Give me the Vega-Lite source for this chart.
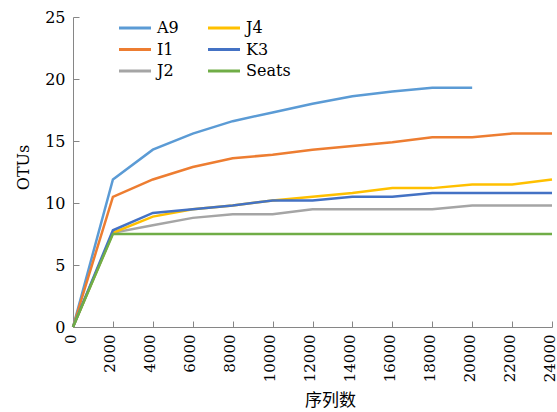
{
  "$schema": "https://vega.github.io/schema/vega-lite/v6.json",
  "width": 479,
  "height": 310,
  "autosize": "none",
  "padding": {"left": 73, "top": 17, "right": 5, "bottom": 85},
  "background": "white",
  "config": {
    "view": {"stroke": null},
    "font": "DejaVu Serif",
    "axis": {"grid": false, "domainColor": "#868686", "tickColor": "#868686", "labelColor": "black", "titleColor": "black", "titleFontWeight": "normal", "labelFont": "DejaVu Serif", "titleFont": "DejaVu Serif"},
    "legend": {"labelColor": "black", "labelFont": "DejaVu Serif"}
  },
  "data": {"values": [
    {"x": 0, "s": "A9", "v": 0}, {"x": 2000, "s": "A9", "v": 11.9}, {"x": 4000, "s": "A9", "v": 14.3}, {"x": 6000, "s": "A9", "v": 15.6}, {"x": 8000, "s": "A9", "v": 16.6}, {"x": 10000, "s": "A9", "v": 17.3}, {"x": 12000, "s": "A9", "v": 18.0}, {"x": 14000, "s": "A9", "v": 18.6}, {"x": 16000, "s": "A9", "v": 19.0}, {"x": 18000, "s": "A9", "v": 19.3}, {"x": 20000, "s": "A9", "v": 19.3},
    {"x": 0, "s": "I1", "v": 0}, {"x": 2000, "s": "I1", "v": 10.5}, {"x": 4000, "s": "I1", "v": 11.9}, {"x": 6000, "s": "I1", "v": 12.9}, {"x": 8000, "s": "I1", "v": 13.6}, {"x": 10000, "s": "I1", "v": 13.9}, {"x": 12000, "s": "I1", "v": 14.3}, {"x": 14000, "s": "I1", "v": 14.6}, {"x": 16000, "s": "I1", "v": 14.9}, {"x": 18000, "s": "I1", "v": 15.3}, {"x": 20000, "s": "I1", "v": 15.3}, {"x": 22000, "s": "I1", "v": 15.6}, {"x": 24000, "s": "I1", "v": 15.6},
    {"x": 0, "s": "J2", "v": 0}, {"x": 2000, "s": "J2", "v": 7.6}, {"x": 4000, "s": "J2", "v": 8.2}, {"x": 6000, "s": "J2", "v": 8.8}, {"x": 8000, "s": "J2", "v": 9.1}, {"x": 10000, "s": "J2", "v": 9.1}, {"x": 12000, "s": "J2", "v": 9.5}, {"x": 14000, "s": "J2", "v": 9.5}, {"x": 16000, "s": "J2", "v": 9.5}, {"x": 18000, "s": "J2", "v": 9.5}, {"x": 20000, "s": "J2", "v": 9.8}, {"x": 22000, "s": "J2", "v": 9.8}, {"x": 24000, "s": "J2", "v": 9.8},
    {"x": 0, "s": "J4", "v": 0}, {"x": 2000, "s": "J4", "v": 7.6}, {"x": 4000, "s": "J4", "v": 8.9}, {"x": 6000, "s": "J4", "v": 9.5}, {"x": 8000, "s": "J4", "v": 9.8}, {"x": 10000, "s": "J4", "v": 10.2}, {"x": 12000, "s": "J4", "v": 10.5}, {"x": 14000, "s": "J4", "v": 10.8}, {"x": 16000, "s": "J4", "v": 11.2}, {"x": 18000, "s": "J4", "v": 11.2}, {"x": 20000, "s": "J4", "v": 11.5}, {"x": 22000, "s": "J4", "v": 11.5}, {"x": 24000, "s": "J4", "v": 11.9},
    {"x": 0, "s": "K3", "v": 0}, {"x": 2000, "s": "K3", "v": 7.8}, {"x": 4000, "s": "K3", "v": 9.2}, {"x": 6000, "s": "K3", "v": 9.5}, {"x": 8000, "s": "K3", "v": 9.8}, {"x": 10000, "s": "K3", "v": 10.2}, {"x": 12000, "s": "K3", "v": 10.2}, {"x": 14000, "s": "K3", "v": 10.5}, {"x": 16000, "s": "K3", "v": 10.5}, {"x": 18000, "s": "K3", "v": 10.8}, {"x": 20000, "s": "K3", "v": 10.8}, {"x": 22000, "s": "K3", "v": 10.8}, {"x": 24000, "s": "K3", "v": 10.8},
    {"x": 0, "s": "Seats", "v": 0}, {"x": 2000, "s": "Seats", "v": 7.5}, {"x": 4000, "s": "Seats", "v": 7.5}, {"x": 6000, "s": "Seats", "v": 7.5}, {"x": 8000, "s": "Seats", "v": 7.5}, {"x": 10000, "s": "Seats", "v": 7.5}, {"x": 12000, "s": "Seats", "v": 7.5}, {"x": 14000, "s": "Seats", "v": 7.5}, {"x": 16000, "s": "Seats", "v": 7.5}, {"x": 18000, "s": "Seats", "v": 7.5}, {"x": 20000, "s": "Seats", "v": 7.5}, {"x": 22000, "s": "Seats", "v": 7.5}, {"x": 24000, "s": "Seats", "v": 7.5}
  ]},
  "mark": {"type": "line", "strokeWidth": 2.5},
  "encoding": {
    "x": {"field": "x", "type": "quantitative", "scale": {"domain": [0, 24000], "nice": false},
      "axis": {"title": "序列数", "titleFont": "Noto Sans CJK SC", "titleFontSize": 17, "titleX": 257, "titleY": 65, "titleBaseline": "top", "titleAnchor": null, "values": [0, 2000, 4000, 6000, 8000, 10000, 12000, 14000, 16000, 18000, 20000, 22000, 24000], "format": "d", "labelAngle": -90, "labelFont": "DejaVu Serif", "labelFontSize": 15, "labelOffset": -3, "tickSize": -6, "labelPadding": 13, "labelFlush": false, "labelOverlap": false}},
    "y": {"field": "v", "type": "quantitative", "scale": {"domain": [0, 25], "nice": false},
      "axis": {"title": "OTUs", "titleFont": "DejaVu Serif", "titleFontSize": 16, "titleX": -42, "titleY": 150, "labelFont": "DejaVu Serif", "labelFontSize": 16, "values": [0, 5, 10, 15, 20, 25], "tickSize": -6, "labelPadding": 14, "labelFlush": false, "labelOverlap": false}},
    "color": {"field": "s", "type": "nominal",
      "scale": {"domain": ["A9", "I1", "J2", "J4", "K3", "Seats"], "range": ["#5B9BD5", "#ED7D31", "#A5A5A5", "#FFC000", "#4472C4", "#70AD47"]},
      "legend": {"title": null, "orient": "none", "legendX": 44, "legendY": 3, "columns": 2, "columnPadding": 23, "rowPadding": 5.5, "labelFontSize": 16, "symbolType": "M-1.2,0H5.2", "symbolSize": 100, "symbolStrokeWidth": 3, "labelOffset": 24, "padding": 0}}
  }
}
